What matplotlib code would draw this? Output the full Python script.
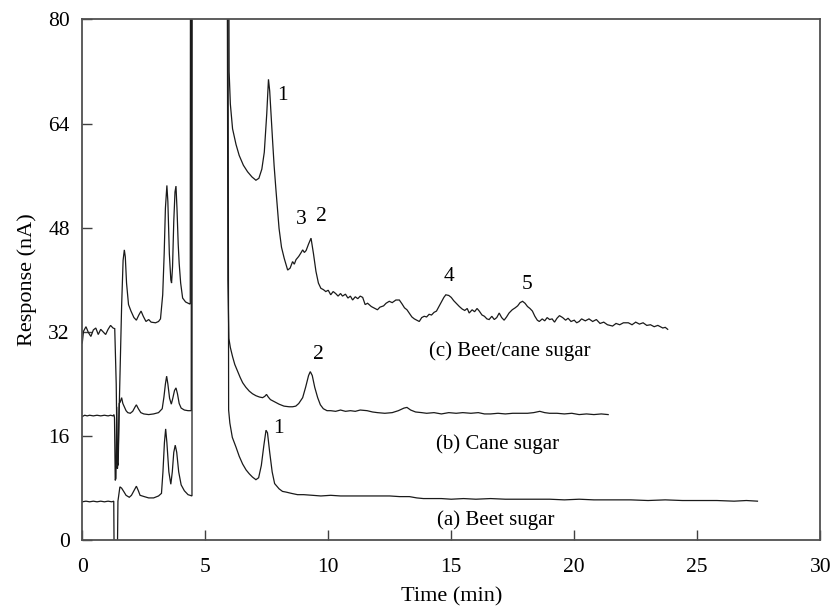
import matplotlib
matplotlib.use("Agg")
import matplotlib.pyplot as plt

# ---------------- data ----------------
# (c) Beet/cane sugar
c_t = [0.0, 0.05, 0.15, 0.25, 0.35, 0.45, 0.55, 0.65, 0.75, 0.85, 0.95, 1.05, 1.15, 1.25, 1.32,
       1.38, 1.42, 1.46, 1.50, 1.55, 1.60, 1.66, 1.71, 1.75, 1.80, 1.88, 1.98, 2.1, 2.2, 2.3, 2.39,
       2.48, 2.59, 2.7, 2.8, 2.98, 3.1, 3.18, 3.27, 3.33, 3.38, 3.44, 3.48, 3.54, 3.6, 3.63, 3.67,
       3.72, 3.77, 3.81, 3.85, 3.9, 3.94, 4.0, 4.08, 4.2, 4.36, 4.39, 4.40,
       5.95, 5.97, 6.02, 6.11, 6.25, 6.38, 6.55, 6.72, 6.9, 7.06, 7.18, 7.3, 7.4, 7.5, 7.57, 7.62,
       7.68, 7.74, 7.8, 7.87, 8.0, 8.1, 8.21, 8.35, 8.45, 8.55, 8.62, 8.69, 8.8, 8.9, 8.96, 9.03,
       9.1, 9.2, 9.3, 9.4, 9.5, 9.6, 9.7, 9.8, 9.9, 10.0, 10.1, 10.2, 10.3, 10.4, 10.5, 10.58,
       10.7, 10.8, 10.9, 10.99, 11.1, 11.2, 11.3, 11.4, 11.5, 11.6, 11.75, 11.85, 12.0, 12.1,
       12.25, 12.35, 12.48, 12.6, 12.75, 12.89, 13.0, 13.1, 13.2, 13.29, 13.4, 13.5, 13.6, 13.7,
       13.8, 13.9, 14.0, 14.1, 14.2, 14.3, 14.4, 14.5, 14.6, 14.7, 14.78, 14.9, 15.0, 15.1, 15.2,
       15.33, 15.45, 15.55, 15.65, 15.73, 15.85, 15.95, 16.05, 16.14, 16.25, 16.35, 16.45, 16.54,
       16.65, 16.75, 16.85, 16.95, 17.05, 17.15, 17.25, 17.35, 17.48, 17.6, 17.7, 17.8, 17.9,
       18.0, 18.1, 18.2, 18.3, 18.4, 18.5, 18.58, 18.7, 18.8, 18.9, 19.0, 19.1, 19.2, 19.3, 19.4,
       19.53, 19.65, 19.75, 19.87, 20.0, 20.1, 20.2, 20.3, 20.45, 20.6, 20.75, 20.9, 21.05, 21.2,
       21.35, 21.56, 21.7, 21.85, 22.0, 22.2, 22.35, 22.5, 22.65, 22.8, 22.95, 23.1, 23.25, 23.4,
       23.6, 23.7, 23.8]
c_r = [30.3, 32.1, 32.8, 31.9, 31.3, 32.3, 32.6, 31.6, 32.4, 32.0, 31.6, 32.4, 33.0, 32.6, 32.5,
       24.0, 12.0, 11.5, 20.0, 28.0, 36.0, 43.0, 44.6, 43.5, 39.5, 36.2, 35.2, 34.2, 33.8, 34.6, 35.2,
       34.4, 33.6, 33.9, 33.5, 33.4, 33.6, 34.0, 37.7, 44.0, 51.0, 54.5, 52.0, 44.0, 40.0, 39.5, 42.0,
       49.0, 53.5, 54.4, 51.0, 45.5, 42.5, 39.5, 37.2, 36.6, 36.3, 36.3, 100.0,
       100.0, 72.0, 67.0, 63.2, 60.8, 59.1, 57.6, 56.6, 55.8, 55.3, 55.6, 57.0, 59.6, 65.5, 70.8, 69.0,
       65.0, 61.2, 57.5, 54.0, 47.9, 45.0, 43.3, 41.5, 41.8, 42.8, 42.4, 43.1, 43.6, 44.2, 44.6, 44.2,
       44.5, 45.5, 46.4, 44.0, 41.3, 39.5, 38.7, 38.5, 38.2, 38.4, 37.7, 38.2, 37.9, 37.5, 37.9, 37.5,
       37.8, 37.2, 37.5, 36.9, 37.4, 37.1, 37.5, 37.3, 36.2, 36.4, 35.9, 35.7, 35.4, 35.8,
       36.0, 36.4, 36.7, 36.5, 36.9, 36.9, 36.3, 35.7, 35.4, 34.9, 34.3, 34.0, 33.8, 33.6,
       34.2, 34.4, 34.3, 34.7, 34.6, 35.0, 35.2, 35.9, 36.6, 37.3, 37.7, 37.6, 37.3, 36.8, 36.4,
       35.9, 35.5, 35.3, 35.6, 34.9, 35.4, 35.1, 35.6, 35.2, 34.6, 34.4, 34.0, 33.9,
       34.4, 33.9, 34.2, 34.9, 34.2, 33.8, 34.3, 34.9, 35.4, 35.7, 36.0, 36.5, 36.7,
       36.4, 35.9, 35.6, 35.2, 34.4, 33.8, 33.6, 34.0, 33.7, 34.2, 33.9, 34.0, 33.5, 34.1, 34.5,
       34.2, 33.8, 34.1, 33.6, 33.8, 33.4, 33.6, 34.0, 33.7, 34.0, 33.6, 33.9, 33.3, 33.5,
       33.1, 32.9, 33.3, 33.1, 33.4, 33.4, 33.1, 33.5, 33.2, 33.4, 33.0, 33.1, 32.8, 33.0,
       32.6, 32.7, 32.4]

# (b) Cane sugar
b_t = [0.0, 0.1, 0.2, 0.3, 0.45, 0.6, 0.75, 0.9, 1.05, 1.15, 1.25, 1.29, 1.31, 1.34, 1.37, 1.40,
       1.43, 1.46, 1.5, 1.54, 1.6, 1.65, 1.72, 1.78, 1.85, 1.95, 2.05, 2.15, 2.2, 2.28, 2.38, 2.5,
       2.7, 2.9, 3.1, 3.25, 3.32, 3.38, 3.43, 3.48, 3.55, 3.62, 3.68, 3.75, 3.81, 3.87, 3.94, 4.02,
       4.15, 4.3, 4.43, 4.44,
       5.89, 5.92, 5.96, 6.02, 6.11, 6.2, 6.31, 6.42, 6.52, 6.65, 6.79, 6.92, 7.06, 7.2, 7.33, 7.42,
       7.49, 7.56, 7.65, 7.8, 8.0, 8.2, 8.41, 8.55, 8.68, 8.8, 8.96, 9.08, 9.2, 9.27, 9.35, 9.45,
       9.57, 9.68, 9.8, 9.95, 10.1, 10.3, 10.5, 10.7, 10.9, 11.1, 11.3, 11.58, 11.8, 12.0, 12.3,
       12.6, 12.85, 13.08, 13.2, 13.35, 13.55, 13.8, 14.0, 14.3, 14.6, 14.9, 15.2, 15.47, 15.8,
       16.1, 16.35, 16.6, 16.9, 17.2, 17.5, 17.8, 18.1, 18.35, 18.6, 18.8, 19.0, 19.3, 19.6, 19.9,
       20.2, 20.5, 20.8, 21.1, 21.38]
b_r = [19.0, 19.2, 19.1, 19.2, 19.1, 19.2, 19.1, 19.2, 19.1, 19.2, 19.1, 19.3, 18.8, 9.2, 9.5, 20.5,
       11.0, 13.0, 21.0, 21.2, 21.9, 21.0, 20.4, 19.9, 19.6, 19.5, 19.8, 20.5, 20.8, 20.2, 19.6, 19.4,
       19.3, 19.4, 19.6, 20.2, 22.0, 24.0, 25.2, 24.0, 21.8, 20.9, 21.8, 23.0, 23.4, 22.5, 21.0, 20.3,
       20.0, 19.9, 19.9, 100.0,
       100.0, 40.0, 31.0, 29.6, 28.2, 27.0, 26.0, 25.0, 24.2, 23.5, 22.9, 22.5, 22.2, 22.0, 21.9, 22.1,
       22.4, 22.0, 21.6, 21.3, 20.9, 20.6, 20.5, 20.5, 20.6, 21.0, 21.9, 23.5, 25.3, 25.9, 25.3, 23.5,
       21.9, 20.8, 20.2, 19.9, 19.9, 19.8, 20.0, 19.8, 19.9, 19.8, 20.0, 19.9, 19.7, 19.6, 19.5,
       19.6, 19.9, 20.3, 20.4, 20.0, 19.7, 19.6, 19.5, 19.6, 19.4, 19.6, 19.5, 19.6, 19.5,
       19.6, 19.4, 19.4, 19.5, 19.4, 19.5, 19.5, 19.5, 19.6, 19.8, 19.6, 19.5, 19.5, 19.4, 19.5,
       19.3, 19.4, 19.3, 19.4, 19.3]

# (a) Beet sugar
a_t = [0.0, 0.15, 0.3, 0.45, 0.6, 0.75, 0.9, 1.05, 1.2, 1.28, 1.30, 1.42, 1.45, 1.53, 1.6, 1.7,
       1.78, 1.91, 2.0, 2.1, 2.2, 2.28, 2.35, 2.52, 2.7, 2.9, 3.1, 3.22, 3.28, 3.34, 3.39, 3.44,
       3.52, 3.6, 3.66, 3.72, 3.78, 3.84, 3.92, 4.02, 4.15, 4.3, 4.46, 4.47,
       5.92, 5.95, 6.0, 6.1, 6.25, 6.38, 6.52, 6.66, 6.79, 6.92, 7.06, 7.17, 7.28, 7.38, 7.47, 7.53,
       7.62, 7.72, 7.82, 8.0, 8.14, 8.28, 8.5, 8.75, 9.0, 9.36, 9.7, 10.1, 10.5, 10.9, 11.3, 11.7,
       12.1, 12.5, 12.9, 13.3, 13.6, 13.87, 14.2, 14.6, 15.0, 15.5, 16.0, 16.6, 17.2, 17.8, 18.4,
       19.0, 19.6, 20.2, 20.8, 21.5, 22.3, 23.0, 23.7, 24.4, 25.1, 25.8, 26.5, 27.0, 27.45]
a_r = [5.9, 6.0, 5.9, 6.0, 5.9, 6.0, 5.9, 6.0, 5.9, 6.0, -5.0, -5.0, 6.0, 8.2, 8.0, 7.4,
       6.9, 6.6, 6.9, 7.6, 8.3, 7.6, 6.9, 6.7, 6.5, 6.5, 6.8, 7.2, 10.5, 15.0, 17.1, 15.0,
       10.5, 8.6, 10.5, 13.5, 14.6, 13.5, 10.5, 8.5, 7.6, 7.0, 6.8, 100.0,
       100.0, 20.0, 18.0, 15.8, 14.3, 12.9, 11.7, 10.8, 10.2, 9.7, 9.3, 9.6, 11.5, 14.5, 16.9, 16.5,
       13.5, 10.5, 8.7, 7.9, 7.5, 7.4, 7.2, 7.0, 7.0, 6.9, 6.8, 6.9, 6.8, 6.8, 6.8, 6.8,
       6.8, 6.8, 6.7, 6.7, 6.5, 6.4, 6.4, 6.4, 6.3, 6.4, 6.3, 6.4, 6.3, 6.3, 6.3,
       6.3, 6.2, 6.3, 6.2, 6.2, 6.2, 6.1, 6.2, 6.1, 6.1, 6.1, 6.0, 6.1, 6.0]

x_ticks = [0, 5, 10, 15, 20, 25, 30]
y_ticks = [0, 16, 32, 48, 64, 80]

# ---------------- plot ----------------
plt.rcParams['font.family'] = ['Liberation Serif', 'DejaVu Serif']

fig = plt.figure(figsize=(8.31, 6.07), dpi=100)
ax = fig.add_axes([0.099, 0.110, 0.888, 0.858])

line_kw = dict(color='#1a1a1a', lw=0.9, solid_joinstyle='miter')
ax.plot(c_t, c_r, **line_kw)
ax.plot(b_t, b_r, **line_kw)
ax.plot(a_t, a_r, **line_kw)

ax.set_xlim(0, 30)
ax.set_ylim(0, 80)
ax.set_xticks(x_ticks)
ax.set_yticks(y_ticks)
ax.tick_params(direction='in', length=7, width=1.0, color='#404040',
               labelsize=15.5, top=False, right=False)
ax.tick_params(axis='x', pad=13)
ax.tick_params(axis='y', pad=9)
for sp in ax.spines.values():
    sp.set_linewidth(1.3)
    sp.set_color('#505050')

ax.set_xlabel('Time (min)', fontsize=16, labelpad=7)
ax.set_ylabel('Response (nA)', fontsize=16, labelpad=8)

fs = 15.5
ax.text(8.14, 68.3, '1', fontsize=fs, ha='center', va='center')
ax.text(8.89, 49.2, '3', fontsize=fs, ha='center', va='center')
ax.text(9.74, 49.7, '2', fontsize=fs, ha='center', va='center')
ax.text(14.89, 40.5, '4', fontsize=fs, ha='center', va='center')
ax.text(18.1, 39.3, '5', fontsize=fs, ha='center', va='center')
ax.text(9.61, 28.5, '2', fontsize=fs, ha='center', va='center')
ax.text(7.97, 17.1, '1', fontsize=fs, ha='center', va='center')

ax.text(17.4, 29.0, '(c) Beet/cane sugar', fontsize=15, ha='center', va='center')
ax.text(16.9, 14.8, '(b) Cane sugar', fontsize=15, ha='center', va='center')
ax.text(16.8, 3.1, '(a) Beet sugar', fontsize=15, ha='center', va='center')

fig.savefig('out.png', dpi=100, facecolor='white')
